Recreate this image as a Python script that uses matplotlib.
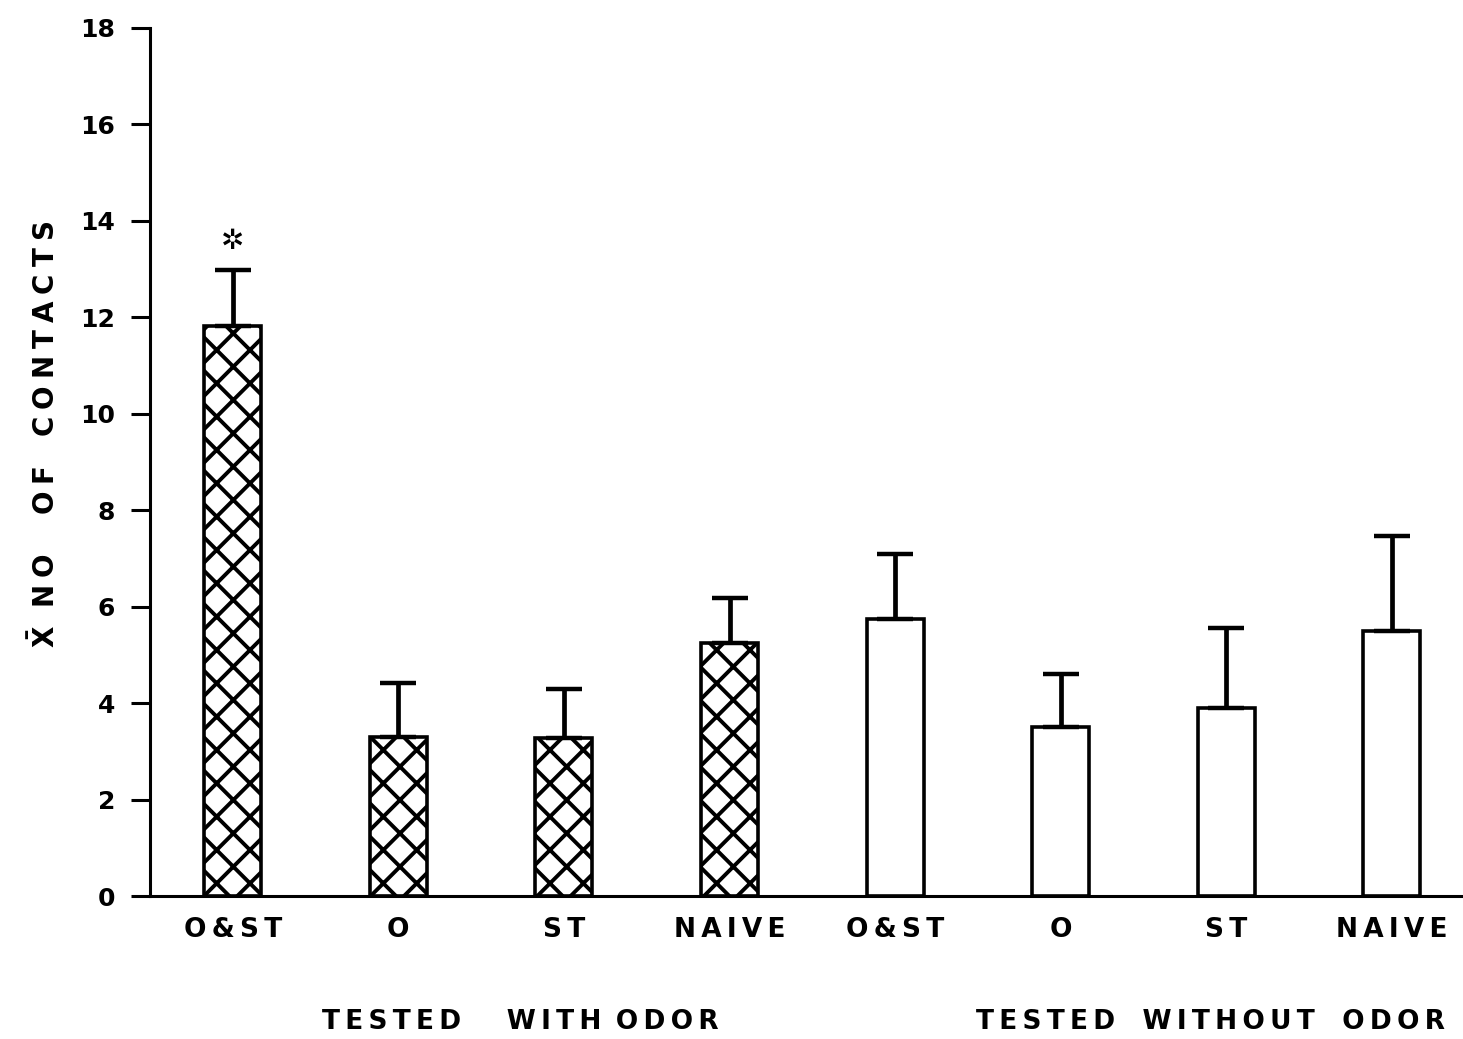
import matplotlib
matplotlib.use('Agg')
import matplotlib.pyplot as plt
import numpy as np

# --- Data ---
CATEGORIES = ['O&ST', 'O', 'ST', 'NAIVE', 'O&ST', 'O', 'ST', 'NAIVE']
MEANS = [11.83, 3.30, 3.28, 5.25, 5.75, 3.51, 3.90, 5.50]
SEM = [1.16, 1.12, 1.01, 0.93, 1.35, 1.10, 1.66, 1.97]
WITH_ODOR = [True, True, True, True, False, False, False, False]
GROUP_LABELS = [['TESTED', 'WITH', 'ODOR'], ['TESTED', 'WITHOUT', 'ODOR']]
Y_TICKS = [0, 2, 4, 6, 8, 10, 12, 14, 16, 18]
SIGNIFICANT = [0]

plt.rcParams['font.family'] = ['DejaVu Sans']
plt.rcParams['font.weight'] = 'bold'
plt.rcParams['hatch.linewidth'] = 2.8
plt.rcParams['mathtext.fontset'] = 'dejavusans'

THIN = '\u2009'
QUARTER = '\u2005'


def spaced(word, gap=THIN):
    """Wide letter spacing, like the old stencil lettering."""
    return gap.join(word)


fig = plt.figure(figsize=(14.63, 10.39), dpi=100)
ax = fig.add_axes([150 / 1463, 143 / 1039, 1313 / 1463, 868 / 1039])

x = np.arange(len(CATEGORIES))
for i in x:
    ax.bar(i, MEANS[i], width=0.345, color='white', edgecolor='black',
           linewidth=2.6, hatch='x' if WITH_ODOR[i] else None, zorder=2)

ax.errorbar(x, MEANS, yerr=[np.zeros(len(SEM)), SEM], fmt='none',
            ecolor='black', elinewidth=3.4, capsize=13, capthick=3.2, zorder=3)

for i in SIGNIFICANT:
    ax.text(i, MEANS[i] + SEM[i] + 0.3, '\u2732', ha='center', va='bottom',
            fontsize=20, fontweight='normal')

ax.set_xlim(-0.50, 7.43)
ax.set_ylim(0, 18)
ax.set_yticks(Y_TICKS)
ax.set_yticklabels([str(t) for t in Y_TICKS], fontsize=18, fontweight='bold')
ax.set_xticks(x)
ax.set_xticklabels([spaced(c) for c in CATEGORIES], fontsize=19,
                   fontweight='bold')
ax.tick_params(axis='y', length=14, width=2.2, pad=11)
ax.tick_params(axis='x', length=0, pad=15)

for s in ['top', 'right']:
    ax.spines[s].set_visible(False)
ax.spines['left'].set_linewidth(2.2)
ax.spines['bottom'].set_linewidth(2.2)

ylab = (r'$\mathbf{\bar{X}}$' + '  ' + spaced('NO', QUARTER) + '    '
        + spaced('OF', QUARTER) + '   ' + spaced('CONTACTS', QUARTER))
ax.set_ylabel(ylab, fontsize=20, fontweight='bold')
ax.yaxis.set_label_coords(-0.068, 0.532)

left = spaced(GROUP_LABELS[0][0]) + '     ' + spaced(GROUP_LABELS[0][1]) \
    + ' ' + THIN + spaced(GROUP_LABELS[0][2])
right = ('   ').join(spaced(w) for w in GROUP_LABELS[1])
fig.text(520 / 1463, 1 - 1022 / 1039, left, ha='center', va='center',
         fontsize=19, fontweight='bold')
fig.text(1211 / 1463, 1 - 1022 / 1039, right, ha='center', va='center',
         fontsize=19, fontweight='bold')

fig.savefig('out.png', dpi=100)
